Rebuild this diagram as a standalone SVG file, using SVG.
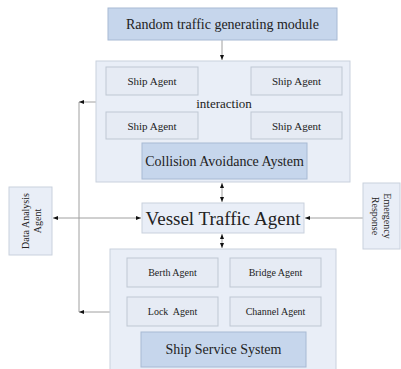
<svg xmlns="http://www.w3.org/2000/svg" width="401" height="369" viewBox="0 0 401 369">
<style>
text{font-family:"Liberation Serif","Times New Roman",serif;fill:#222;text-anchor:middle;dominant-baseline:central}
.dark{fill:#c6d6ec;stroke:#a8bad4;stroke-width:1}
.light{fill:#e9eef7;stroke:#c9d1dd;stroke-width:1}
.inner{fill:#e6ebf4;stroke:#bfc7d3;stroke-width:1}
.ln{fill:none;stroke:#a0a0a0;stroke-width:1}
.s{font-size:10px}
.sa{font-size:11px}
</style>
<defs>
<marker id="ah" viewBox="0 0 10 10" refX="10" refY="5" markerWidth="5" markerHeight="5" orient="auto-start-reverse" markerUnits="userSpaceOnUse">
<path d="M0,1 L10,5 L0,9 z" fill="#111"/>
</marker>
</defs>
<rect width="401" height="369" fill="#fff"/>
<g id="connectors">
<path class="ln" d="M222,40 V60" marker-end="url(#ah)"/>
<path class="ln" d="M198,81 H250" marker-start="url(#ah)" marker-end="url(#ah)"/>
<path class="ln" d="M198,126 H250" marker-start="url(#ah)" marker-end="url(#ah)"/>
<path class="ln" d="M149,95 V112" marker-start="url(#ah)" marker-end="url(#ah)"/>
<path class="ln" d="M294,95 V112" marker-start="url(#ah)" marker-end="url(#ah)"/>
<path class="ln" d="M222,183 V202" marker-start="url(#ah)" marker-end="url(#ah)"/>
<path class="ln" d="M222,234 V248" marker-start="url(#ah)" marker-end="url(#ah)"/>
<path class="ln" d="M53,218 H141" marker-start="url(#ah)" marker-end="url(#ah)"/>
<path class="ln" d="M363,218 H305" marker-end="url(#ah)"/>
<path class="ln" d="M79,102 V312"/>
<path class="ln" d="M96,102 H79" marker-end="url(#ah)"/>
<path class="ln" d="M110,312 H79" marker-end="url(#ah)"/>
</g>
<g id="random-traffic">
<rect class="dark" x="108" y="8" width="229" height="32"/>
<text x="222.5" y="24" font-size="14">Random traffic generating module</text>
</g>
<g id="ship-group">
<rect class="light" x="96" y="61" width="254" height="121"/>
<text x="224" y="103" font-size="13">interaction</text>
</g>
<g id="ship-agent-1">
<rect class="inner" x="106" y="67" width="92" height="28"/>
<text class="sa" x="152" y="81">Ship Agent</text>
</g>
<g id="ship-agent-2">
<rect class="inner" x="251" y="67" width="91" height="28"/>
<text class="sa" x="296.5" y="81">Ship Agent</text>
</g>
<g id="ship-agent-3">
<rect class="inner" x="106" y="112" width="92" height="27"/>
<text class="sa" x="152" y="126">Ship Agent</text>
</g>
<g id="ship-agent-4">
<rect class="inner" x="251" y="112" width="91" height="27"/>
<text class="sa" x="296.5" y="126">Ship Agent</text>
</g>
<g id="collision">
<rect class="dark" x="142" y="143" width="165" height="36"/>
<text x="224.5" y="161" font-size="14">Collision Avoidance Aystem</text>
</g>
<g id="vessel-traffic">
<rect class="light" x="142" y="203" width="162" height="30"/>
<text x="223" y="218" font-size="19">Vessel Traffic Agent</text>
</g>
<g id="data-analysis">
<rect class="light" x="9" y="187" width="43" height="68"/>
<text class="s" transform="translate(30.5,221) rotate(-90)"><tspan x="0" y="-6">Data Analysis</tspan><tspan x="0" y="6">Agent</tspan></text>
</g>
<g id="emergency">
<rect class="light" x="363" y="183" width="37" height="66"/>
<text class="s" transform="translate(381.5,216) rotate(90)"><tspan x="0" y="-6">Emergency</tspan><tspan x="0" y="6">Response</tspan></text>
</g>
<g id="service-group">
<rect class="light" x="110" y="249" width="226" height="124"/>
</g>
<g id="berth">
<rect class="inner" x="127" y="258" width="91" height="29"/>
<text class="s" x="172.5" y="272.5">Berth Agent</text>
</g>
<g id="bridge">
<rect class="inner" x="230" y="258" width="91" height="29"/>
<text class="s" x="275.5" y="272.5">Bridge Agent</text>
</g>
<g id="lock">
<rect class="inner" x="127" y="297" width="91" height="29"/>
<text class="s" x="172.5" y="311.5" xml:space="preserve">Lock  Agent</text>
</g>
<g id="channel">
<rect class="inner" x="230" y="297" width="91" height="29"/>
<text class="s" x="275.5" y="311.5">Channel Agent</text>
</g>
<g id="ship-service">
<rect class="dark" x="141" y="332" width="165" height="35"/>
<text x="223.5" y="349.5" font-size="14">Ship Service System</text>
</g>
</svg>
